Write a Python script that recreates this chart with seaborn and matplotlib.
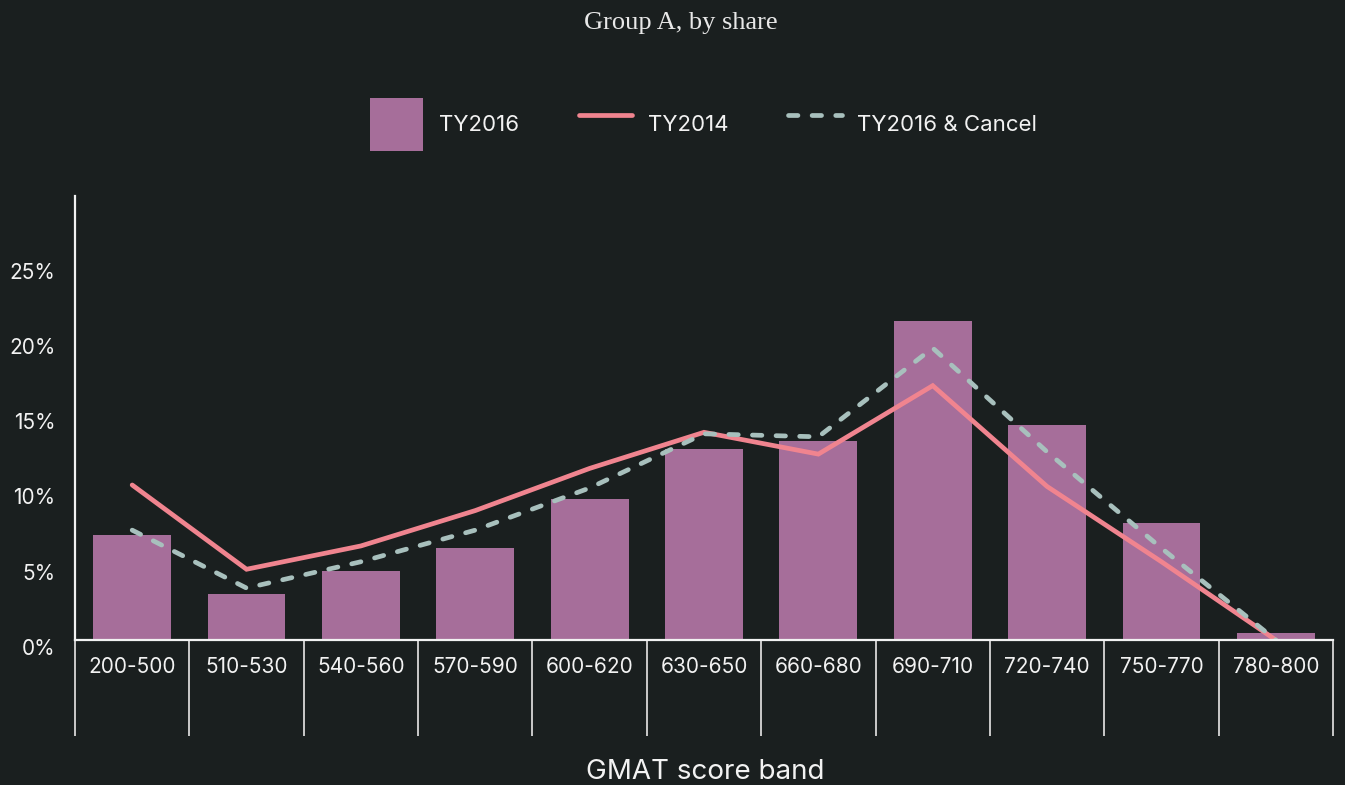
import numpy as np
import pandas as pd
import seaborn as sns
import matplotlib
matplotlib.use('Agg')
import matplotlib.pyplot as plt
from matplotlib.lines import Line2D
from matplotlib.patches import Patch
from matplotlib.ticker import FixedLocator, FuncFormatter
from matplotlib.transforms import ScaledTranslation

bands = ['200-500', '510-530', '540-560', '570-590', '600-620', '630-650',
         '660-680', '690-710', '720-740', '750-770', '780-800']
ty2016 = [7.0, 3.05, 4.6, 6.1, 9.4, 12.7, 13.2, 21.2, 14.3, 7.75, 0.45]
ty2014 = [10.3, 4.7, 6.25, 8.6, 11.4, 13.8, 12.35, 16.9, 10.2, 5.2, 0.0]
ty2016_cancel = [7.3, 3.45, 5.2, 7.3, 10.1, 13.7, 13.5, 19.4, 12.5, 6.1, 0.0]
yticks = [0, 5, 10, 15, 20, 25]

BG = '#1a1f1f'
BAR = '#a66e9a'
PINK = '#f0848f'
GREY = '#a8c0bd'
FG = '#f2f2f2'
DASH = (0, (2, 3))
LW = 3.4

df = pd.DataFrame({'band': bands, 'ty2016': ty2016, 'ty2014': ty2014,
                   'cancel': ty2016_cancel, 'pos': np.arange(len(bands))})

sns.set_theme(style='white')
plt.rcParams['font.family'] = ['Inter', 'DejaVu Sans']

fig = plt.figure(figsize=(13.45, 7.85), dpi=100, facecolor=BG)
ax = fig.add_axes([75 / 1345, 145 / 785, 1258 / 1345, 444 / 785])
ax.set_facecolor(BG)

sns.barplot(data=df, x='band', y='ty2016', color=BAR, saturation=1,
            width=0.68, linewidth=0, edgecolor='none', ax=ax)
sns.lineplot(data=df, x='pos', y='ty2014', color=PINK, lw=LW, ax=ax,
             solid_capstyle='round', solid_joinstyle='miter')
sns.lineplot(data=df, x='pos', y='cancel', color=GREY, lw=LW, ax=ax,
             linestyle=DASH, dash_capstyle='round')

ax.set_xlim(-0.5, len(bands) - 0.5)
ax.set_ylim(0, 29.5)
ax.set_xlabel('')
ax.set_ylabel('')

# category labels + separator ticks hanging below the baseline
ax.set_xticks(np.arange(len(bands)))
ax.set_xticklabels(bands)
ax.xaxis.set_minor_locator(FixedLocator(np.arange(-0.5, len(bands), 1.0)))
ax.tick_params(axis='x', which='both', bottom=True)
ax.tick_params(axis='x', which='major', length=0, pad=12, labelsize=15, labelcolor=FG)
ax.tick_params(axis='x', which='minor', length=69, width=1.3, color='#d8d8d8',
               direction='out')

ax.set_yticks(yticks)
ax.yaxis.set_major_formatter(FuncFormatter(lambda v, p: f'{v:.0f}%'))
ax.tick_params(axis='y', length=0, pad=14, labelsize=15, labelcolor=FG)
for lab in ax.get_yticklabels():
    lab.set_transform(lab.get_transform() + ScaledTranslation(0, -0.07, fig.dpi_scale_trans))

for s in ['top', 'right']:
    ax.spines[s].set_visible(False)
for s in ['left', 'bottom']:
    ax.spines[s].set_color(FG)
    ax.spines[s].set_linewidth(1.6)

handles = [Patch(facecolor=BAR, edgecolor='none'),
           Line2D([], [], color=PINK, lw=LW, solid_capstyle='round'),
           Line2D([], [], color=GREY, lw=LW, linestyle=DASH, dash_capstyle='round')]
leg = fig.legend(handles, ['TY2016', 'TY2014', 'TY2016 & Cancel'], loc='center',
                 bbox_to_anchor=(0.523, 0.841), ncol=3, frameon=False,
                 fontsize=16, handlelength=2.4, handleheight=3.3,
                 handletextpad=0.7, columnspacing=2.7, labelcolor=FG)

fig.text(0.506, 0.971, 'Group A, by share', ha='center', va='center',
         fontsize=19, color='#e8e8e8', family=['Liberation Serif', 'DejaVu Serif'])
fig.text(0.524, 0.017, 'GMAT score band', ha='center', va='center',
         fontsize=20, color=FG)

fig.savefig('out.png', dpi=100, facecolor=BG)
